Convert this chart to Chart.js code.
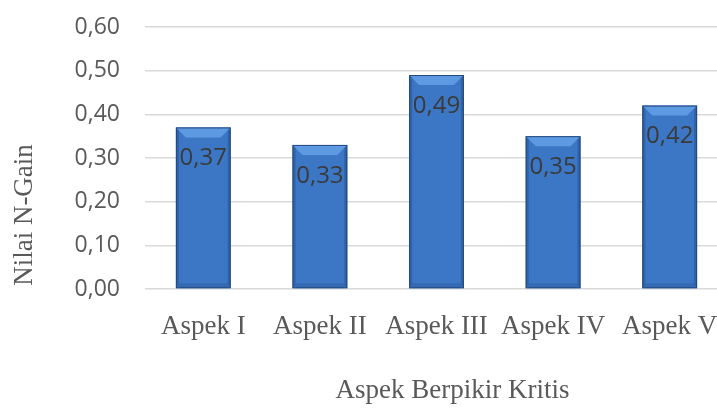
<!DOCTYPE html>
<html>
<head>
<meta charset="utf-8">
<script src="https://cdn.jsdelivr.net/npm/chart.js@4"></script>
<style>
  html, body { margin: 0; padding: 0; background: #fff; overflow: hidden; }
  #wrap { width: 728px; height: 408px; }
</style>
</head>
<body>
<div id="wrap"><canvas id="ngainChart" width="728" height="408"></canvas></div>
<script>
const categories = ['Aspek I', 'Aspek II', 'Aspek III', 'Aspek IV', 'Aspek V'];
const nGainValues = [0.37, 0.33, 0.49, 0.35, 0.42];
const yTicks = [0, 0.1, 0.2, 0.3, 0.4, 0.5, 0.6];
const xTitle = 'Aspek Berpikir Kritis';
const yTitle = 'Nilai N-Gain';

const fmt = v => v.toFixed(2).replace('.', ',');

// bevel look + value labels + axis titles
const bevelPlugin = {
    id: 'bevel',
    afterDatasetsDraw(chart) {
        const ctx = chart.ctx;
        const meta = chart.getDatasetMeta(0);
        meta.data.forEach((bar, i) => {
            const p = bar.getProps(['x', 'y', 'base', 'width'], true);
            const l = p.x - p.width / 2, r = p.x + p.width / 2;
            const t = p.y, b = p.base, bv = 10;
            ctx.save();
            // top bevel
            ctx.fillStyle = '#5E9AE2';
            ctx.beginPath();
            ctx.moveTo(l, t); ctx.lineTo(r, t); ctx.lineTo(r - bv, t + bv); ctx.lineTo(l + bv, t + bv);
            ctx.closePath(); ctx.fill();
            // sides
            ctx.fillStyle = 'rgba(20,50,100,0.3)';
            ctx.beginPath();
            ctx.moveTo(l, t); ctx.lineTo(l + 3, t + 3); ctx.lineTo(l + 3, b - 3); ctx.lineTo(l, b);
            ctx.closePath(); ctx.fill();
            ctx.beginPath();
            ctx.moveTo(r, t); ctx.lineTo(r - 3, t + 3); ctx.lineTo(r - 3, b - 3); ctx.lineTo(r, b);
            ctx.closePath(); ctx.fill();
            // bottom
            ctx.fillStyle = 'rgba(20,50,100,0.18)';
            ctx.fillRect(l + 3, b - 5, p.width - 6, 5);
            ctx.strokeStyle = '#24497E';
            ctx.lineWidth = 1;
            ctx.strokeRect(l + 0.5, t + 0.5, p.width - 1, b - t - 1);
            // label
            ctx.fillStyle = '#3A3A3A';
            ctx.font = '24px "Open Sans"';
            ctx.textAlign = 'center';
            ctx.textBaseline = 'middle';
            ctx.fillText(fmt(nGainValues[i]), p.x, t + 31);
            ctx.restore();
        });
    },
    afterDraw(chart) {
        const ctx = chart.ctx;
        const a = chart.chartArea;
        ctx.save();
        ctx.fillStyle = '#595959';
        ctx.font = '27px "Liberation Serif"';
        ctx.textAlign = 'center';
        ctx.textBaseline = 'middle';
        ctx.fillText(xTitle, (a.left + a.right) / 2 + 16, 391);
        ctx.translate(25, 215);
        ctx.rotate(-Math.PI / 2);
        ctx.fillText(yTitle, 0, 0);
        ctx.restore();
    }
};

new Chart(document.getElementById('ngainChart'), {
    type: 'bar',
    data: {
        labels: categories,
        datasets: [{
            data: nGainValues,
            backgroundColor: '#3B77C5',
            borderWidth: 0,
            barPercentage: 0.47,
            categoryPercentage: 1
        }]
    },
    options: {
        responsive: false,
        animation: false,
        layout: { padding: { top: 27, left: 0, right: 0, bottom: 0 } },
        plugins: {
            legend: { display: false },
            tooltip: { enabled: false }
        },
        scales: {
            y: {
                min: 0,
                max: 0.6,
                afterBuildTicks: s => { s.ticks = yTicks.map(v => ({ value: v })); },
                afterFit: s => { s.width = 145; s.paddingTop = 0; s.paddingBottom = 0; },
                border: { display: false },
                grid: { color: '#D9D9D9', lineWidth: 1.5, drawTicks: false },
                ticks: {
                    padding: 25,
                    color: '#595959',
                    font: { family: '"Open Sans"', size: 23 },
                    callback: v => fmt(v)
                }
            },
            x: {
                afterFit: s => { s.height = 119; s.paddingLeft = 0; s.paddingRight = 0; },
                border: { display: false },
                grid: { display: false },
                ticks: {
                    padding: 14,
                    color: '#595959',
                    font: { family: '"Liberation Serif"', size: 27 }
                }
            }
        }
    },
    plugins: [bevelPlugin]
});
</script>
</body>
</html>
